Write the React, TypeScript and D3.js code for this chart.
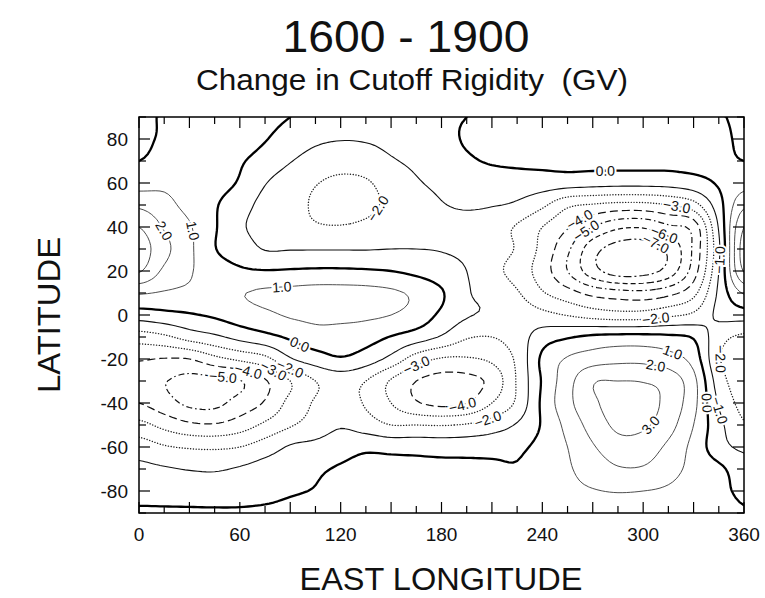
import React, { useMemo } from "react";
import * as d3 from "d3";

// Grid of rigidity change (GV): columns are east longitude 0..360 step 15,
// rows are latitude 90 (north) .. -90 (south) step 10.
const LONGITUDES = d3.range(0, 361, 15);
const LATITUDES = d3.range(90, -91, -10);

const LAT_N90 = [-0.1, 0.05, 0.2, 0.3, 0.3, 0.2, 0.0, -0.2, -0.3, -0.3, -0.3, -0.2, -0.1, 0.0, 0.1, 0.2, 0.3, 0.3, 0.3, 0.3, 0.3, 0.3, 0.2, 0.05, -0.1];
const LAT_N80 = [-0.15, 0.1, 0.3, 0.4, 0.4, 0.05, -0.4, -0.8, -0.95, -0.9, -0.7, -0.5, -0.3, 0.1, 0.3, 0.4, 0.5, 0.5, 0.5, 0.5, 0.5, 0.5, 0.4, 0.2, -0.15];
const LAT_N70 = [0.0, 0.3, 0.4, 0.4, 0.1, -0.4, -0.95, -1.4, -1.6, -1.5, -1.1, -0.8, -0.5, -0.15, 0.1, 0.2, 0.25, 0.3, 0.3, 0.3, 0.3, 0.3, 0.3, 0.2, 0.0];
const LAT_N60 = [0.6, 0.8, 0.6, 0.35, -0.1, -0.95, -1.5, -1.95, -2.2, -2.1, -1.6, -1.1, -0.8, -0.6, -0.55, -0.5, -0.5, -0.55, -0.65, -0.7, -0.7, -0.65, -0.4, 0.1, 0.6];
const LAT_N50 = [1.8, 1.3, 0.7, 0.1, -0.6, -1.3, -1.7, -2.1, -2.3, -2.2, -1.8, -1.4, -1.05, -0.9, -0.95, -1.15, -1.8, -2.8, -3.1, -3.3, -3.3, -3.0, -2.4, -0.4, 1.8];
const LAT_N40 = [3.0, 1.9, 1.1, 0.1, -0.85, -1.3, -1.6, -1.9, -1.95, -1.8, -1.5, -1.3, -1.3, -1.3, -1.6, -2.1, -3.0, -3.9, -5.0, -5.8, -5.9, -5.2, -4.6, -0.9, 3.0];
const LAT_N30 = [3.5, 2.3, 1.2, 0.05, -0.5, -1.05, -1.05, -1.05, -1.05, -1.05, -1.0, -1.0, -1.05, -1.2, -1.6, -2.1, -3.3, -4.8, -6.6, -7.4, -7.5, -6.8, -4.8, -1.2, 3.5];
const LAT_N20 = [3.1, 1.8, 1.1, 0.5, 0.15, 0.05, 0.1, 0.15, 0.15, 0.1, 0.0, -0.25, -0.6, -1.0, -1.7, -2.4, -3.5, -5.0, -6.6, -7.5, -7.4, -6.6, -4.5, -1.0, 3.1];
const LAT_N10 = [1.1, 0.9, 0.8, 0.8, 0.95, 1.15, 1.25, 1.35, 1.35, 1.3, 1.15, 0.8, 0.1, -0.9, -1.3, -1.9, -2.9, -3.6, -4.3, -4.6, -4.7, -4.3, -3.3, -0.8, 1.1];
const LAT_0 = [-0.5, -0.3, -0.1, 0.15, 0.5, 0.8, 1.1, 1.2, 1.2, 1.15, 1.0, 0.6, -0.2, -0.9, -1.15, -1.4, -1.7, -2.05, -2.4, -2.6, -2.55, -2.2, -1.8, -0.8, -0.5];
const LAT_S10 = [-2.5, -2.2, -1.6, -1.2, -0.7, -0.3, 0.15, 0.6, 0.6, 0.4, -0.05, -0.5, -1.1, -1.9, -2.0, -1.5, -0.5, -0.1, 0.2, 0.3, 0.3, 0.2, -0.1, -1.6, -2.2];
const LAT_S20 = [-3.9, -4.05, -4.0, -3.3, -2.8, -2.3, -1.1, -0.5, -0.1, -0.5, -1.3, -2.5, -3.1, -3.1, -2.8, -1.8, 0.2, 1.1, 1.5, 1.7, 1.7, 1.4, 0.6, -1.9, -2.5];
const LAT_S30 = [-4.6, -4.95, -5.3, -5.3, -5.05, -4.1, -3.0, -2.0, -1.6, -2.0, -3.1, -4.0, -4.35, -4.3, -3.7, -1.9, 0.1, 1.6, 2.9, 3.0, 2.95, 2.6, 1.3, -1.5, -2.5];
const LAT_S40 = [-4.0, -4.6, -5.2, -5.25, -4.6, -3.9, -2.7, -1.9, -1.6, -2.1, -3.0, -3.9, -4.25, -4.05, -3.0, -1.8, 0.2, 1.7, 2.8, 3.4, 3.35, 2.7, 1.3, -1.1, -2.3];
const LAT_S50 = [-2.7, -3.3, -3.8, -3.9, -3.5, -2.8, -2.1, -1.6, -1.1, -1.5, -2.0, -2.0, -2.05, -1.9, -1.5, -0.9, 0.1, 1.3, 2.4, 3.2, 3.15, 2.4, 1.0, -0.7, -1.9];
const LAT_S60 = [-1.5, -1.9, -2.1, -2.15, -2.0, -1.5, -0.9, -0.7, -0.4, -0.2, -0.3, -0.35, -0.4, -0.4, -0.35, -0.2, 0.3, 1.0, 1.9, 2.6, 2.5, 1.8, 0.7, -0.6, -1.2];
const LAT_S70 = [-0.75, -0.9, -1.05, -1.1, -0.9, -0.6, -0.4, -0.15, 0.1, 0.3, 0.3, 0.3, 0.25, 0.25, 0.2, 0.1, 0.5, 0.9, 1.4, 1.9, 1.9, 1.4, 0.7, 0.2, -0.5];
const LAT_S80 = [-0.3, -0.35, -0.4, -0.45, -0.4, -0.3, -0.1, 0.05, 0.3, 0.4, 0.45, 0.45, 0.45, 0.45, 0.45, 0.5, 0.6, 0.8, 0.95, 1.05, 1.0, 0.85, 0.5, 0.2, -0.15];
const LAT_S90 = [0.1, 0.1, 0.1, 0.1, 0.1, 0.15, 0.25, 0.35, 0.45, 0.5, 0.55, 0.55, 0.55, 0.55, 0.55, 0.55, 0.55, 0.55, 0.55, 0.55, 0.5, 0.45, 0.35, 0.2, 0.05];

const ROWS = [
  LAT_N90, LAT_N80, LAT_N70, LAT_N60, LAT_N50, LAT_N40, LAT_N30, LAT_N20, LAT_N10,
  LAT_0, LAT_S10, LAT_S20, LAT_S30, LAT_S40, LAT_S50, LAT_S60, LAT_S70, LAT_S80, LAT_S90,
];

const LEVELS = [-7, -6, -5, -4, -3, -2, -1, 0, 1, 2, 3];

const LON_TICKS = d3.range(0, 361, 15);
const LON_LABELS = [0, 60, 120, 180, 240, 300, 360];
const LAT_TICKS = d3.range(-90, 91, 10);
const LAT_LABELS = [-80, -60, -40, -20, 0, 20, 40, 60, 80];

// In-line contour labels: level and an approximate spot (lon, lat) near which it sits.
const CONTOUR_LABELS = [
  { level: -2, lon: 139, lat: 49 },
  { level: 2, lon: 13, lat: 38 },
  { level: 1, lon: 29, lat: 38 },
  { level: 1, lon: 86, lat: 12 },
  { level: 0, lon: 96, lat: -13 },
  { level: -2, lon: 90, lat: -24 },
  { level: -3, lon: 79, lat: -28 },
  { level: -4, lon: 64, lat: -25 },
  { level: -5, lon: 50, lat: -26 },
  { level: -3, lon: 163, lat: -21 },
  { level: -4, lon: 191, lat: -40 },
  { level: -2, lon: 207, lat: -45 },
  { level: 2, lon: 306, lat: -25 },
  { level: 1, lon: 316, lat: -22 },
  { level: 3, lon: 303, lat: -49 },
  { level: 0, lon: 337, lat: -40 },
  { level: -1, lon: 346, lat: -43 },
  { level: -2, lon: 347, lat: -20 },
  { level: -2, lon: 307, lat: -3 },
  { level: 0, lon: 277, lat: 64 },
  { level: -4, lon: 262, lat: 42 },
  { level: -5, lon: 268, lat: 37 },
  { level: -3, lon: 320, lat: 45 },
  { level: -6, lon: 312, lat: 35 },
  { level: -7, lon: 305, lat: 29 },
  { level: -1, lon: 344, lat: 25 },
];

const W = 765;
const H = 598;
const PLOT = { left: 139, right: 744, top: 117, bottom: 513 };
const FONT = "'Liberation Sans', Arial, Helvetica, sans-serif";

function catmullRom(p0: number, p1: number, p2: number, p3: number, t: number) {
  const t2 = t * t;
  const t3 = t2 * t;
  return 0.5 * (2 * p1 + (-p0 + p2) * t + (2 * p0 - 5 * p1 + 4 * p2 - p3) * t2 + (-p0 + 3 * p1 - 3 * p2 + p3) * t3);
}

// Smooth resampling of a 1-D profile onto k sub-steps per interval.
function refine(arr: number[], k: number) {
  const n = arr.length;
  const out: number[] = [];
  for (let i = 0; i < n - 1; i++) {
    const p0 = arr[Math.max(i - 1, 0)];
    const p1 = arr[i];
    const p2 = arr[i + 1];
    const p3 = arr[Math.min(i + 2, n - 1)];
    for (let s = 0; s < k; s++) out.push(catmullRom(p0, p1, p2, p3, s / k));
  }
  out.push(arr[n - 1]);
  return out;
}

function lineStyle(level: number) {
  if (level === 0) return { width: 2.3, dash: undefined, color: "#000", cap: "butt" };
  if (level > 0) return { width: 0.9, dash: undefined, color: "#3a3a3a", cap: "butt" };
  if (level === -1) return { width: 1.1, dash: undefined, color: "#111", cap: "butt" };
  if (level === -2 || level === -3) return { width: 1.4, dash: "0.1 2.7", color: "#222", cap: "round" };
  if (level === -4) return { width: 1.2, dash: "8 4", color: "#111", cap: "butt" };
  if (level === -5) return { width: 1.2, dash: "6 3 1.5 3", color: "#111", cap: "butt" };
  if (level === -6) return { width: 1.2, dash: "5 3", color: "#111", cap: "butt" };
  return { width: 1.2, dash: "8 3 2 3", color: "#111", cap: "butt" };
}

export default function App() {
  const x = d3.scaleLinear().domain([0, 360]).range([PLOT.left, PLOT.right]);
  const y = d3.scaleLinear().domain([-90, 90]).range([PLOT.bottom, PLOT.top]);

  const { paths, labels } = useMemo(() => {
    const K = 6;
    const fineRows = ROWS.map((r) => refine(r, K));
    const nx = fineRows[0].length;
    const ny = (ROWS.length - 1) * K + 1;
    const values = new Array(nx * ny);
    for (let i = 0; i < nx; i++) {
      const col = refine(fineRows.map((r) => r[i]), K);
      for (let j = 0; j < ny; j++) values[j * nx + i] = col[j];
    }
    const lonStep = (LONGITUDES[LONGITUDES.length - 1] - LONGITUDES[0]) / (nx - 1);
    const latStep = (LATITUDES[0] - LATITUDES[LATITUDES.length - 1]) / (ny - 1);
    const toPx = (gx: number, gy: number): [number, number] => [
      x(LONGITUDES[0] + (gx - 0.5) * lonStep),
      y(LATITUDES[0] - (gy - 0.5) * latStep),
    ];

    const contours = d3.contours().size([nx, ny]).thresholds(LEVELS)(values);
    const ringsByLevel = new Map<number, [number, number][][]>();
    const paths = contours.map((c) => {
      const rings: [number, number][][] = [];
      let d = "";
      c.coordinates.forEach((poly) =>
        poly.forEach((ring) => {
          const pts = ring.map(([gx, gy]) => toPx(gx, gy));
          rings.push(pts);
          d += "M" + pts.map((p) => p[0].toFixed(2) + "," + p[1].toFixed(2)).join("L");
        })
      );
      ringsByLevel.set(c.value, rings);
      return { level: c.value, d };
    });

    const labels = CONTOUR_LABELS.map((lab, idx) => {
      const ax = x(lab.lon);
      const ay = y(lab.lat);
      const rings = ringsByLevel.get(lab.level) || [];
      let best: { px: number; py: number; ang: number } | null = null;
      let bestD = Infinity;
      rings.forEach((pts) => {
        const n = pts.length;
        pts.forEach((p, i) => {
          if (p[0] < PLOT.left + 2 || p[0] > PLOT.right - 2 || p[1] < PLOT.top + 2 || p[1] > PLOT.bottom - 2) return;
          const dd = (p[0] - ax) ** 2 + (p[1] - ay) ** 2;
          if (dd < bestD) {
            const a = pts[(i - 3 + n) % n];
            const b = pts[(i + 3) % n];
            let ang = (Math.atan2(b[1] - a[1], b[0] - a[0]) * 180) / Math.PI;
            if (ang > 90) ang -= 180;
            if (ang <= -90) ang += 180;
            bestD = dd;
            best = { px: p[0], py: p[1], ang };
          }
        });
      });
      return best ? { key: idx, text: d3.format(".1f")(lab.level), ...(best as any) } : null;
    }).filter(Boolean) as { key: number; text: string; px: number; py: number; ang: number }[];

    return { paths, labels };
  }, []);

  return (
    <svg
      width={W}
      height={H}
      viewBox={`0 0 ${W} ${H}`}
      style={{ position: "absolute", left: 0, top: 0, background: "#fff" }}
      fontFamily={FONT}
    >
      <defs>
        <clipPath id="plot-area">
          <rect x={PLOT.left} y={PLOT.top} width={PLOT.right - PLOT.left} height={PLOT.bottom - PLOT.top} />
        </clipPath>
      </defs>
      <rect width={W} height={H} fill="#fff" />

      <text x={406} y={52} textAnchor="middle" fontSize={44} textLength={247} lengthAdjust="spacingAndGlyphs" fill="#111">
        1600 - 1900
      </text>
      <text
        x={412}
        y={90}
        textAnchor="middle"
        fontSize={29}
        textLength={432}
        lengthAdjust="spacingAndGlyphs"
        fill="#111"
        style={{ whiteSpace: "pre" }}
      >
        {"Change in Cutoff Rigidity  (GV)"}
      </text>

      <g clipPath="url(#plot-area)">
        {paths.map((p) => {
          const s = lineStyle(p.level);
          return (
            <path
              key={p.level}
              d={p.d}
              fill="none"
              stroke={s.color}
              strokeWidth={s.width}
              strokeDasharray={s.dash}
              strokeLinecap={s.cap as any}
              strokeLinejoin="round"
            />
          );
        })}
        {labels.map((l) => (
          <text
            key={l.key}
            transform={`translate(${l.px},${l.py}) rotate(${l.ang})`}
            textAnchor="middle"
            dominantBaseline="central"
            fontSize={14}
            fill="#111"
            stroke="#fff"
            strokeWidth={4}
            paintOrder="stroke"
          >
            {l.text}
          </text>
        ))}
      </g>

      <rect
        x={PLOT.left}
        y={PLOT.top}
        width={PLOT.right - PLOT.left}
        height={PLOT.bottom - PLOT.top}
        fill="none"
        stroke="#000"
        strokeWidth={1.5}
      />

      <g stroke="#000" strokeWidth={1.2}>
        {LON_TICKS.map((lon) => {
          const len = lon % 30 === 0 ? 11 : 7;
          const xx = x(lon);
          return (
            <g key={"lt" + lon}>
              <line x1={xx} x2={xx} y1={PLOT.bottom} y2={PLOT.bottom - len} />
              <line x1={xx} x2={xx} y1={PLOT.top} y2={PLOT.top + len} />
            </g>
          );
        })}
        {LAT_TICKS.map((lat) => {
          const len = lat % 20 === 0 ? 11 : 7;
          const yy = y(lat);
          return (
            <g key={"at" + lat}>
              <line x1={PLOT.left} x2={PLOT.left + len} y1={yy} y2={yy} />
              <line x1={PLOT.right} x2={PLOT.right - len} y1={yy} y2={yy} />
            </g>
          );
        })}
      </g>

      <g fontSize={19} fill="#111">
        {LON_LABELS.map((lon) => (
          <text key={"ll" + lon} x={x(lon)} y={541} textAnchor="middle">
            {lon}
          </text>
        ))}
        {LAT_LABELS.map((lat) => (
          <text key={"al" + lat} x={128} y={y(lat)} textAnchor="end" dominantBaseline="central">
            {lat}
          </text>
        ))}
      </g>

      <text x={441} y={590} textAnchor="middle" fontSize={32} textLength={283} lengthAdjust="spacingAndGlyphs" fill="#111">
        EAST LONGITUDE
      </text>
      <text
        transform={`translate(60,${315}) rotate(-90)`}
        textAnchor="middle"
        fontSize={32}
        textLength={156}
        lengthAdjust="spacingAndGlyphs"
        fill="#111"
      >
        LATITUDE
      </text>
    </svg>
  );
}
